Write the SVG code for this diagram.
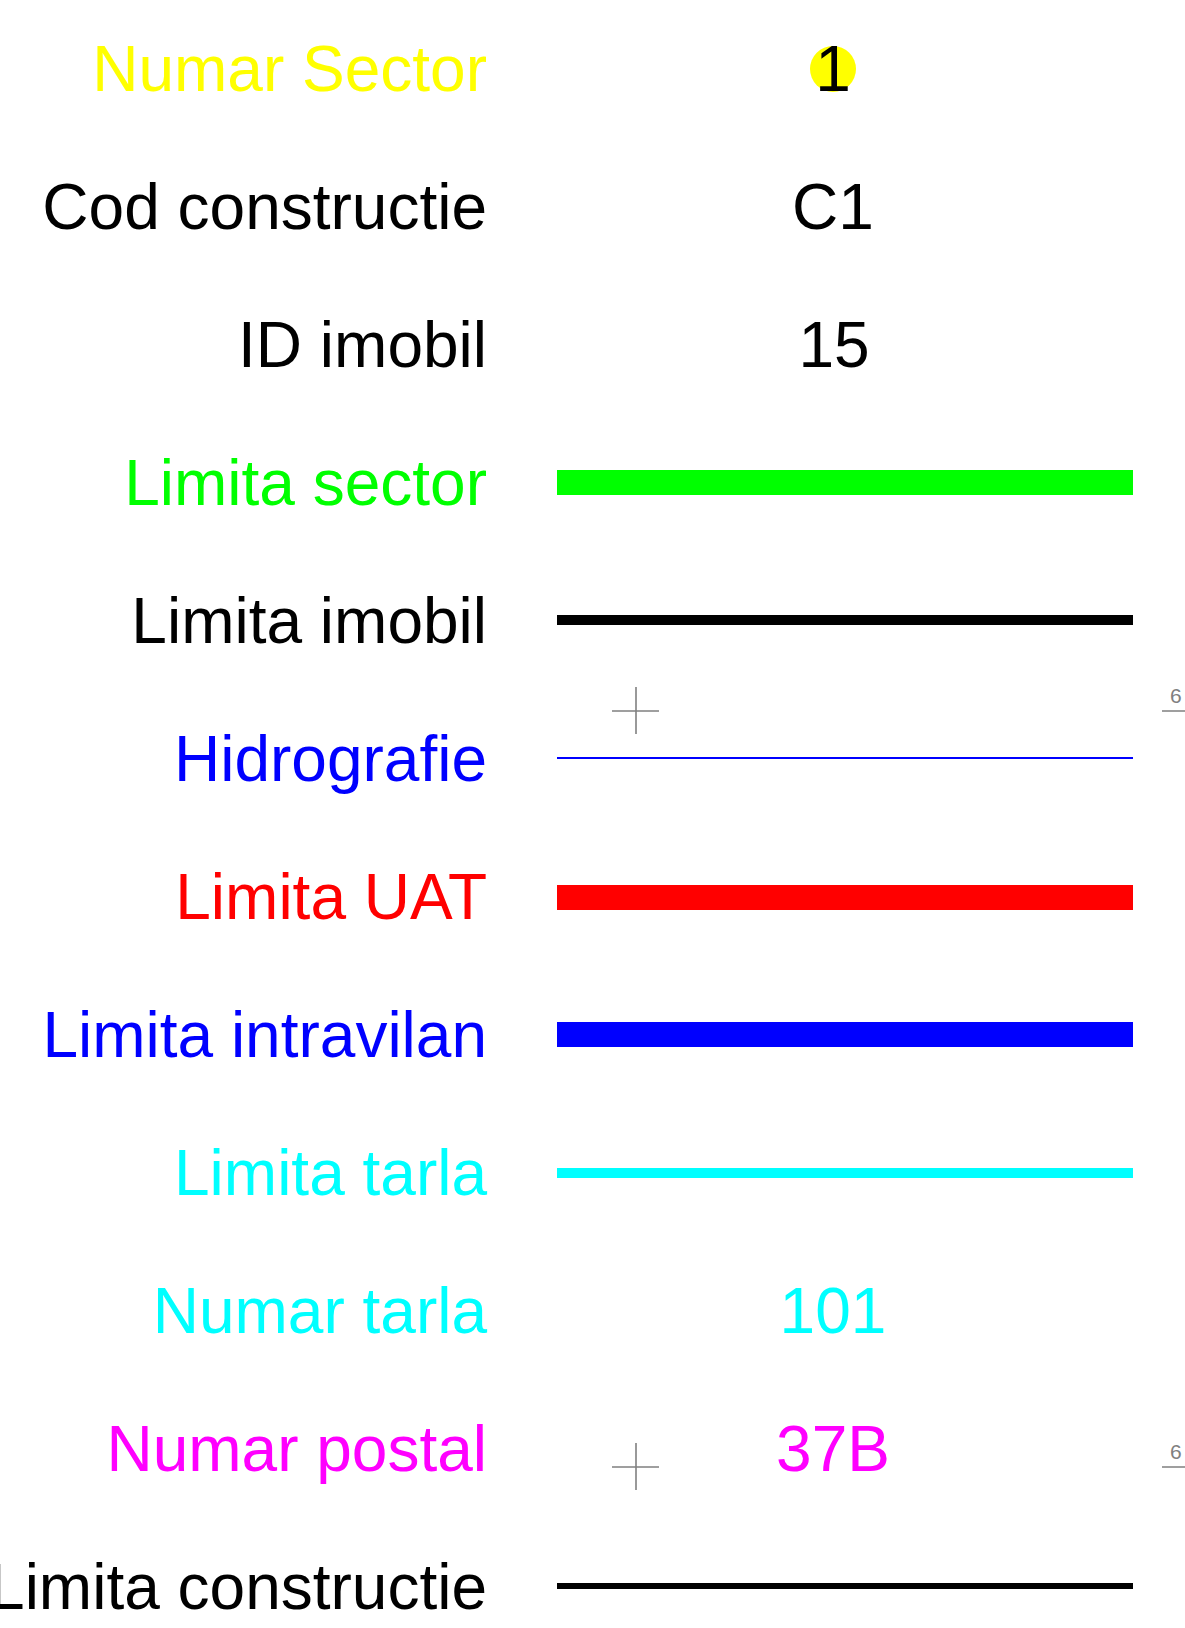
<svg xmlns="http://www.w3.org/2000/svg" width="1185" height="1628" viewBox="0 0 1185 1628">
<style>
text{font-family:"Liberation Sans",Arial,sans-serif;font-size:64px}
.lbl{text-anchor:end}
.val{text-anchor:middle}
.small{font-size:21px;fill:#808080}
.cross{stroke:#808080;stroke-width:1.6;fill:none}
</style>
<rect width="1185" height="1628" fill="#fff"/>
<g id="labels">
<text class="lbl" x="487" y="91" fill="#FFFF00">Numar Sector</text>
<text class="lbl" x="487" y="229" fill="#000">Cod constructie</text>
<text class="lbl" x="487" y="367" fill="#000">ID imobil</text>
<text class="lbl" x="487" y="505" fill="#00FF00">Limita sector</text>
<text class="lbl" x="487" y="643" fill="#000">Limita imobil</text>
<text class="lbl" x="487" y="781" fill="#0000FF">Hidrografie</text>
<text class="lbl" x="487" y="919" fill="#FF0000">Limita UAT</text>
<text class="lbl" x="487" y="1057" fill="#0000FF">Limita intravilan</text>
<text class="lbl" x="487" y="1195" fill="#00FFFF">Limita tarla</text>
<text class="lbl" x="487" y="1333" fill="#00FFFF">Numar tarla</text>
<text class="lbl" x="487" y="1471" fill="#FF00FF">Numar postal</text>
<text class="lbl" x="487" y="1609" fill="#000">Limita constructie</text>
</g>
<g id="symbols">
<g id="sector-num"><circle cx="833" cy="69" r="23" fill="#FFFF00"/><text class="val" x="833" y="91" fill="#000">1</text></g>
<text id="cod" class="val" x="833" y="229" fill="#000">C1</text>
<text id="imobil-id" class="val" x="834" y="367" fill="#000">15</text>
<rect id="l-sector" x="557" y="470" width="576" height="25" fill="#00FF00"/>
<rect id="l-imobil" x="557" y="615" width="576" height="10" fill="#000"/>
<rect id="l-hidro" x="557" y="757" width="576" height="2" fill="#0000FF"/>
<rect id="l-uat" x="557" y="885" width="576" height="25" fill="#FF0000"/>
<rect id="l-intravilan" x="557" y="1022" width="576" height="25" fill="#0000FF"/>
<rect id="l-tarla" x="557" y="1168" width="576" height="10" fill="#00FFFF"/>
<text id="tarla-num" class="val" x="833" y="1333" fill="#00FFFF">101</text>
<text id="postal" class="val" x="833" y="1471" fill="#FF00FF">37B</text>
<rect id="l-constr" x="557" y="1583" width="576" height="6" fill="#000"/>
</g>
<g id="grid">
<path class="cross" d="M612 711H659M636 687V734"/>
<path class="cross" d="M612 1467H659M636 1443V1490"/>
<path class="cross" d="M1162 711H1185M1162 1467H1185"/>
<text class="small" x="1170" y="703">6</text>
<text class="small" x="1170" y="1459">6</text>
</g>
</svg>
